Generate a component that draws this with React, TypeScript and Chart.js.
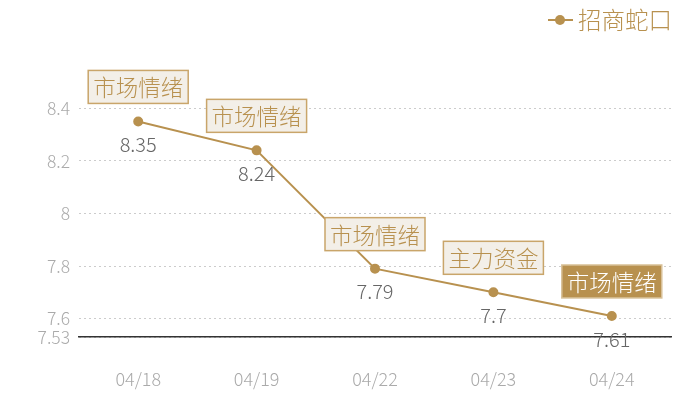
import { useEffect, useRef } from "react";
import { Chart, registerables } from "chart.js";

Chart.register(...registerables);

const dates = ["04/18", "04/19", "04/22", "04/23", "04/24"];
const prices = [8.35, 8.24, 7.79, 7.7, 7.61];
const tags = ["市场情绪", "市场情绪", "市场情绪", "主力资金", "市场情绪"];
const yTicks = [7.53, 7.6, 7.8, 8, 8.2, 8.4];
const seriesName = "招商蛇口";

const GOLD = "#b8914f";
const FONT = "'Noto Sans CJK SC', 'Noto Sans', sans-serif";

// labels, tag boxes and the legend drawn on top of the chart
const decorPlugin = {
  id: "decor",
  afterDatasetsDraw(chart: any) {
    const ctx = chart.ctx;
    const meta = chart.getDatasetMeta(0);
    ctx.save();
    meta.data.forEach((pt: any, i: number) => {
      // value under the point
      ctx.font = `300 20px ${FONT}`;
      ctx.fillStyle = "#666";
      ctx.textAlign = "center";
      ctx.textBaseline = "middle";
      ctx.fillText(String(prices[i]), pt.x, pt.y + 23);

      // tag box above the point
      ctx.font = `300 22.5px ${FONT}`;
      const w = ctx.measureText(tags[i]).width + 10;
      const h = 33;
      const bx = pt.x - w / 2;
      const by = pt.y - 18 - h;
      const last = i === prices.length - 1;
      ctx.fillStyle = last ? GOLD : "#f3efe8";
      ctx.fillRect(bx, by, w, h);
      ctx.strokeStyle = last ? "#d9c29a" : "#c9a56a";
      ctx.lineWidth = 1.5;
      ctx.strokeRect(bx, by, w, h);
      ctx.fillStyle = last ? "#fff" : GOLD;
      ctx.fillText(tags[i], pt.x, by + h / 2 + 1);
    });

    // legend
    ctx.strokeStyle = GOLD;
    ctx.lineWidth = 2;
    ctx.beginPath();
    ctx.moveTo(548, 20);
    ctx.lineTo(573, 20);
    ctx.stroke();
    ctx.fillStyle = GOLD;
    ctx.beginPath();
    ctx.arc(560, 20, 5, 0, Math.PI * 2);
    ctx.fill();
    ctx.font = `300 23.5px ${FONT}`;
    ctx.textAlign = "left";
    ctx.textBaseline = "middle";
    ctx.fillText(seriesName, 578, 20);
    ctx.restore();
  },
};

const App = () => {
  const canvasRef = useRef<HTMLCanvasElement>(null);

  useEffect(() => {
    if (!canvasRef.current) return;
    const chart = new Chart(canvasRef.current, {
      type: "line",
      data: {
        labels: dates,
        datasets: [
          {
            label: seriesName,
            data: prices,
            borderColor: GOLD,
            backgroundColor: GOLD,
            borderWidth: 2,
            pointRadius: 4,
            pointHoverRadius: 4,
            tension: 0,
          },
        ],
      },
      options: {
        animation: false,
        responsive: false,
        layout: { padding: { top: 82, right: 29, left: 0, bottom: 0 } },
        plugins: {
          legend: { display: false },
          tooltip: { enabled: false },
        },
        scales: {
          x: {
            offset: true,
            grid: { display: false },
            border: { display: true, color: "#333", width: 1.5 },
            ticks: {
              color: "#aaa",
              font: { size: 18, family: FONT, weight: 300 },
              padding: 23,
            },
            afterFit: (s: any) => {
              s.height = 63;
            },
          },
          y: {
            min: 7.53,
            max: 8.5,
            afterBuildTicks: (s: any) => {
              s.ticks = yTicks.map((v) => ({ value: v }));
            },
            afterFit: (s: any) => {
              s.width = 79;
            },
            grid: { color: "#ccc", lineWidth: 1, drawTicks: false },
            border: { display: false, dash: [2, 3] },
            ticks: {
              color: "#aaa",
              font: { size: 17.5, family: FONT, weight: 300 },
              padding: 9,
              callback: (v: any) => String(v),
            },
          },
        },
      },
      plugins: [decorPlugin],
    });
    return () => chart.destroy();
  }, []);

  return (
    <div style={{ position: "fixed", left: 0, top: 0, width: 700, height: 400, background: "#fff" }}>
      <canvas ref={canvasRef} width={700} height={400} />
    </div>
  );
};

export default App;
